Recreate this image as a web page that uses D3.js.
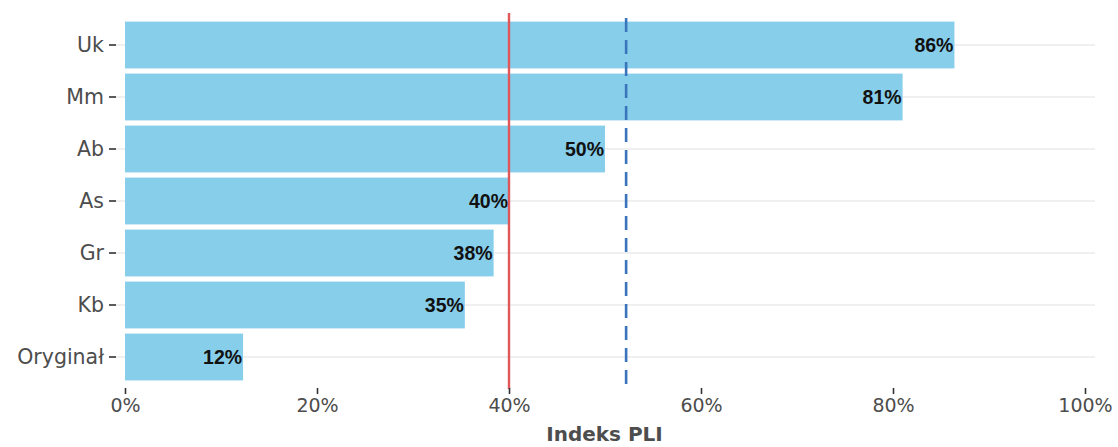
<!DOCTYPE html>
<html>
<head>
<meta charset="utf-8">
<script src="https://cdn.jsdelivr.net/npm/d3@7"></script>
<style>
  html, body { margin: 0; padding: 0; background: #fff; }
  svg { display: block; }
</style>
</head>
<body>
<div id="chart"></div>
<script>
// categories, top to bottom
const categories = ["Uk", "Mm", "Ab", "As", "Gr", "Kb", "Oryginał"];
// PLI index values (fraction)
const values = [0.864, 0.810, 0.500, 0.400, 0.384, 0.354, 0.123];
const xTicks = [0, 0.2, 0.4, 0.6, 0.8, 1.0];
const thresholdLine = 0.40;   // red solid line
const meanLine = 0.522;       // blue dashed line
const xTitle = "Indeks PLI";

const width = 1118, height = 447;

const svg = d3.select("#chart").append("svg")
    .attr("width", width)
    .attr("height", height);

// scales
const x = d3.scaleLinear().domain([0, 1]).range([125, 1085]);
const y = d3.scaleBand().domain(categories).range([13.8, 388.2])
    .paddingInner(0.1).paddingOuter(0.15);

const panelLeft = 114, panelRight = 1095;

// horizontal grid lines at each category
svg.append("g")
    .selectAll("line")
    .data(categories)
    .enter().append("line")
    .attr("x1", panelLeft)
    .attr("x2", panelRight)
    .attr("y1", d => y(d) + y.bandwidth() / 2)
    .attr("y2", d => y(d) + y.bandwidth() / 2)
    .attr("stroke", "#ebebeb")
    .attr("stroke-width", 1.6);

// bars
svg.append("g")
    .selectAll("rect")
    .data(categories)
    .enter().append("rect")
    .attr("x", x(0))
    .attr("y", d => y(d))
    .attr("width", (d, i) => x(values[i]) - x(0))
    .attr("height", y.bandwidth())
    .attr("fill", "#87CEEB");

// value labels
svg.append("g")
    .selectAll("text")
    .data(categories)
    .enter().append("text")
    .attr("x", (d, i) => x(values[i]) - 1)
    .attr("y", d => y(d) + y.bandwidth() / 2)
    .attr("dy", "0.36em")
    .attr("text-anchor", "end")
    .style("font-family", "'Liberation Sans', Arial, sans-serif")
    .style("font-weight", "bold")
    .style("font-size", "19.5px")
    .style("fill", "#111")
    .text((d, i) => Math.round(values[i] * 100) + "%");

// reference lines
svg.append("line")
    .attr("x1", x(thresholdLine)).attr("x2", x(thresholdLine))
    .attr("y1", 13).attr("y2", 389)
    .attr("stroke", "#e0575a")
    .attr("stroke-width", 2.4);

svg.append("line")
    .attr("x1", x(meanLine)).attr("x2", x(meanLine))
    .attr("y1", 18).attr("y2", 389)
    .attr("stroke", "#3a74bb")
    .attr("stroke-width", 2.6)
    .attr("stroke-dasharray", "14,8");

// y axis
const yAxis = svg.append("g")
    .attr("transform", "translate(116,0)")
    .call(d3.axisLeft(y).tickSize(7).tickPadding(5));
yAxis.select(".domain").remove();
yAxis.selectAll(".tick line").attr("stroke", "#333").attr("stroke-width", 1.6);
yAxis.selectAll(".tick text")
    .style("font-family", "'DejaVu Sans', sans-serif")
    .style("font-size", "20.5px")
    .style("fill", "#4d4d4d");

// x axis
const xAxis = svg.append("g")
    .attr("transform", "translate(0,388)")
    .call(d3.axisBottom(x).tickValues(xTicks).tickFormat(d3.format(".0%")).tickSize(6).tickPadding(5));
xAxis.select(".domain").remove();
xAxis.selectAll(".tick line").attr("stroke", "#333").attr("stroke-width", 1.6);
xAxis.selectAll(".tick text")
    .style("font-family", "'DejaVu Sans', sans-serif")
    .style("font-size", "19px")
    .style("fill", "#4d4d4d");

// x axis title
svg.append("text")
    .attr("x", (panelLeft + panelRight) / 2)
    .attr("y", 441)
    .attr("text-anchor", "middle")
    .style("font-family", "'DejaVu Sans', sans-serif")
    .style("font-weight", "bold")
    .style("font-size", "20px")
    .style("fill", "#4d4d4d")
    .text(xTitle);
</script>
</body>
</html>
